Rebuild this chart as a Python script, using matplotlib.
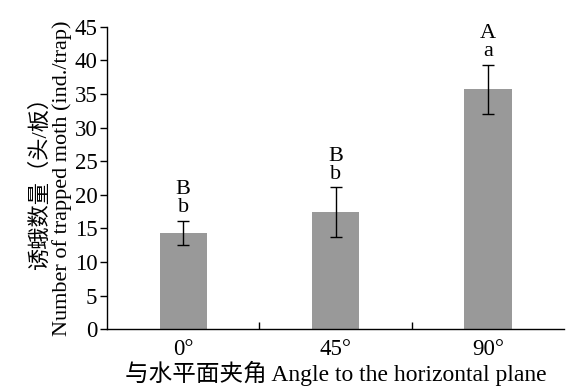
import numpy as np
import matplotlib.pyplot as plt

angles = ['0°', '45°', '90°']
means = [14.3, 17.4, 35.7]
errs = [1.8, 3.7, 3.7]
upper_letters = ['B', 'B', 'A']
lower_letters = ['b', 'b', 'a']

plt.rcParams['font.family'] = ['Liberation Serif', 'Noto Sans CJK SC']
plt.rcParams['font.size'] = 16.5

fig = plt.figure(figsize=(5.66, 3.9), dpi=100)
ax = fig.add_axes([0.189, 0.156, 0.808, 0.775])

x = np.arange(len(angles))
ax.bar(x, means, width=0.31, color='#999999', zorder=2)
ax.errorbar(x, means, yerr=errs, fmt='none', ecolor='black', elinewidth=1,
            capsize=4, capthick=1, zorder=3)

# significance letters stacked above each error bar
for xi, m, e, up, lo in zip(x, means, errs, upper_letters, lower_letters):
    top = m + e
    ax.text(xi, top + 1.3, lo, ha='center', va='baseline', fontsize=16)
    ax.text(xi, top + 4.0, up, ha='center', va='baseline', fontsize=16)

ax.set_xlim(-0.5, 2.5)
ax.set_ylim(0, 45)
ax.set_yticks(np.arange(0, 46, 5))
ax.set_xticks(x)
ax.set_xticklabels(angles)
ax.set_xticks([0.5, 1.5], minor=True)
ax.tick_params(axis='x', which='major', length=0, pad=7)
ax.tick_params(axis='x', which='minor', direction='in', length=5, width=1)
ax.tick_params(axis='y', direction='out', length=5, width=1, pad=2)
ax.spines['top'].set_visible(False)
ax.spines['right'].set_visible(False)
ax.spines['left'].set_linewidth(1)
ax.spines['bottom'].set_linewidth(1)

ax.set_xlabel('与水平面夹角 Angle to the horizontal plane', fontsize=17, labelpad=1)
ax.set_ylabel('诱蛾数量（头/板）\nNumber of trapped moth (ind./trap)', fontsize=16,
              labelpad=2, linespacing=1.05)

fig.savefig('out.png', dpi=100)
